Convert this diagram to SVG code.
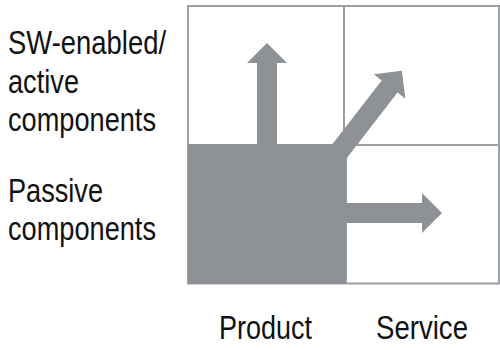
<svg xmlns="http://www.w3.org/2000/svg" width="500" height="350" viewBox="0 0 500 350">
  <style>
    .grid { fill: none; stroke: #9c9fa3; stroke-width: 2; }
    .solid { fill: #8e9297; stroke: none; }
    .lbl { font-family: "Liberation Sans", Arial, sans-serif; font-size: 33px; fill: #111111; }
  </style>
  <rect width="500" height="350" fill="#ffffff"/>
  <g id="matrix">
    <rect class="grid" x="188" y="6" width="311" height="277.5"/>
    <line class="grid" x1="344" y1="6" x2="344" y2="145"/>
    <line class="grid" x1="188" y1="145" x2="499" y2="145"/>
    <line class="grid" x1="346" y1="145" x2="346" y2="283.5"/>
    <rect class="solid" x="188" y="144" width="158" height="140"/>
  </g>
  <g id="connectors">
    <polygon class="solid" points="257,150 257,63 247,63 267,43 287,63 277,63 277,150"/>
    <polygon class="solid" points="320.3,159.8 381.7,80.4 373.8,74.3 401.8,70.7 405.4,98.7 397.5,92.6 336.1,172"/>
    <polygon class="solid" points="340,203 422,203 422,193 442,213 422,233 422,223 340,223"/>
  </g>
  <g id="row-active">
    <text class="lbl" x="8" y="54" textLength="158" lengthAdjust="spacingAndGlyphs">SW-enabled/</text>
    <text class="lbl" x="8" y="92.5" textLength="71" lengthAdjust="spacingAndGlyphs">active</text>
    <text class="lbl" x="8" y="131" textLength="148" lengthAdjust="spacingAndGlyphs">components</text>
  </g>
  <g id="row-passive">
    <text class="lbl" x="8" y="202" textLength="95" lengthAdjust="spacingAndGlyphs">Passive</text>
    <text class="lbl" x="8" y="240" textLength="148" lengthAdjust="spacingAndGlyphs">components</text>
  </g>
  <g id="col-product">
    <text class="lbl" x="219" y="339" textLength="93" lengthAdjust="spacingAndGlyphs">Product</text>
  </g>
  <g id="col-service">
    <text class="lbl" x="376" y="339" textLength="92" lengthAdjust="spacingAndGlyphs">Service</text>
  </g>
</svg>
